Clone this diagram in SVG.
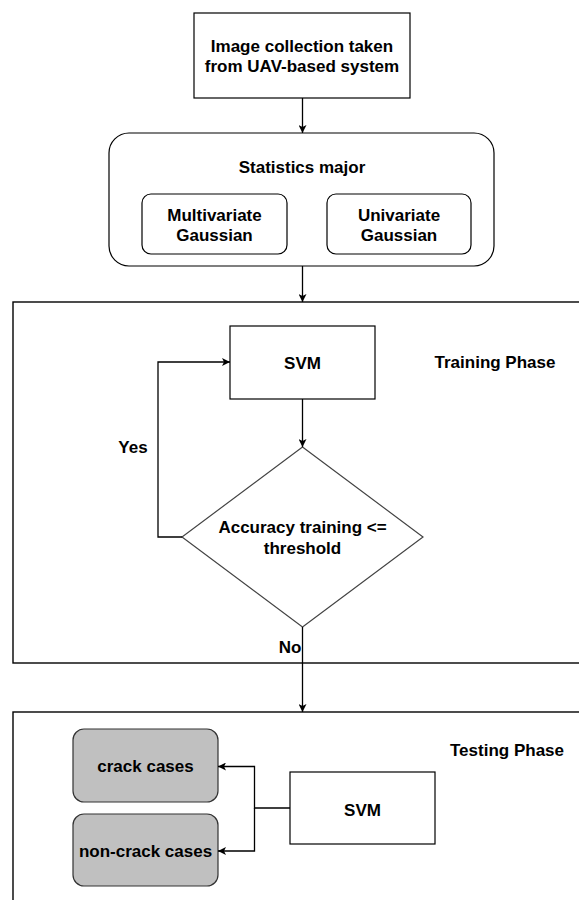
<svg xmlns="http://www.w3.org/2000/svg" width="579" height="900" viewBox="0 0 579 900">
<defs>
<marker id="arr" viewBox="0 0 10 10" refX="10" refY="5" markerWidth="8" markerHeight="8" markerUnits="userSpaceOnUse" orient="auto">
<path d="M0,0 L10,5 L0,10 L2.5,5 Z" fill="#000"/>
</marker>
<style>
text{font-family:"Liberation Sans",Arial,Helvetica,sans-serif;font-weight:bold;font-size:17px;fill:#000;text-anchor:middle;dominant-baseline:central}
.box{fill:#fff;stroke:#000;stroke-width:1.2}
.gray{fill:#c0c0c0;stroke:#333;stroke-width:1.2}
.frame{fill:none;stroke:#000;stroke-width:1.4}
.dia{fill:#fff;stroke:#444;stroke-width:1.2}
.conn{fill:none;stroke:#000;stroke-width:1.3}
</style>
</defs>
<rect width="579" height="900" fill="#fff"/>
<g id="training-phase">
<rect class="frame" x="13" y="302" width="600" height="361"/>
<text x="495" y="362">Training Phase</text>
</g>
<g id="testing-phase">
<rect class="frame" x="13" y="712" width="600" height="220"/>
<text x="507" y="750">Testing Phase</text>
</g>
<g id="image-collection">
<rect class="box" x="194" y="13" width="216" height="85"/>
<text x="302" y="46">Image collection taken</text>
<text x="302" y="66">from UAV-based system</text>
</g>
<g id="statistics-major">
<rect class="box" x="109" y="133" width="385" height="133" rx="20" ry="20"/>
<text x="302" y="167">Statistics major</text>
</g>
<g id="multivariate">
<rect class="box" x="142" y="194" width="145" height="60" rx="9" ry="9"/>
<text x="214.5" y="215">Multivariate</text>
<text x="214.5" y="235">Gaussian</text>
</g>
<g id="univariate">
<rect class="box" x="327" y="194" width="144" height="60" rx="9" ry="9"/>
<text x="399" y="215">Univariate</text>
<text x="399" y="235">Gaussian</text>
</g>
<g id="svm-train">
<rect class="box" x="230" y="326" width="145" height="73"/>
<text x="302.5" y="363">SVM</text>
</g>
<g id="decision">
<polygon class="dia" points="302.5,447 423,537 302.5,627 182,537"/>
<text x="302.5" y="527">Accuracy training &lt;=</text>
<text x="302.5" y="548">threshold</text>
</g>
<g id="crack">
<rect class="gray" x="73" y="729" width="145" height="73" rx="11" ry="11"/>
<text x="145.5" y="766">crack cases</text>
</g>
<g id="non-crack">
<rect class="gray" x="73" y="814" width="145" height="72" rx="11" ry="11"/>
<text x="145.5" y="851">non-crack cases</text>
</g>
<g id="svm-test">
<rect class="box" x="290" y="772" width="145" height="72"/>
<text x="362.5" y="810">SVM</text>
</g>
<g id="connectors">
<line class="conn" x1="302.5" y1="98" x2="302.5" y2="133" marker-end="url(#arr)"/>
<line class="conn" x1="302.5" y1="266" x2="302.5" y2="302" marker-end="url(#arr)"/>
<line class="conn" x1="302.5" y1="399" x2="302.5" y2="447" marker-end="url(#arr)"/>
<polyline class="conn" points="182,537 158,537 158,362 230,362" marker-end="url(#arr)"/>
<line class="conn" x1="302.5" y1="627" x2="302.5" y2="712" marker-end="url(#arr)"/>
<polyline class="conn" points="290,808 254.5,808 254.5,766.5 218,766.5" marker-end="url(#arr)"/>
<polyline class="conn" points="254.5,808 254.5,851 218,851" marker-end="url(#arr)"/>
<text x="133" y="447">Yes</text>
<text x="290" y="647">No</text>
</g>
</svg>
